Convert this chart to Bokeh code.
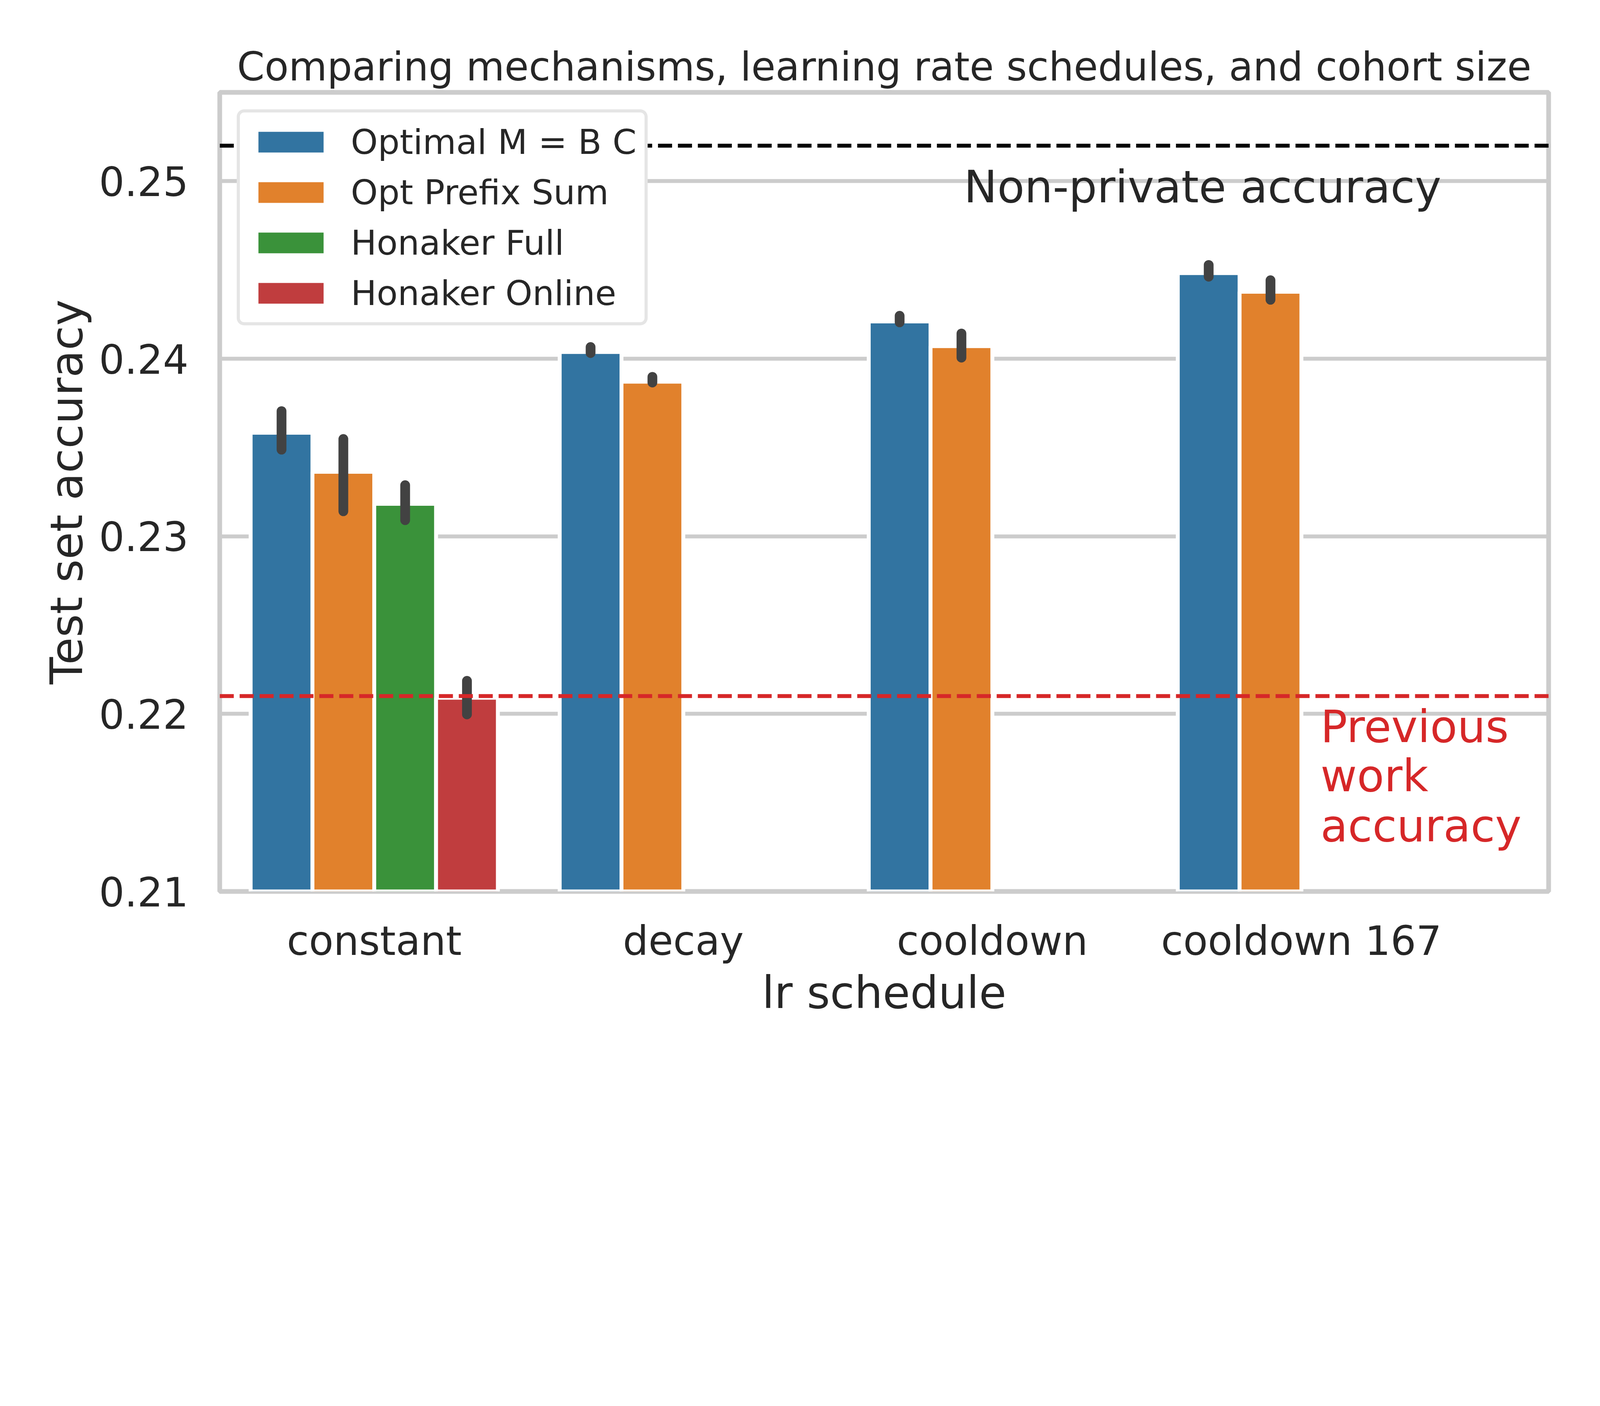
from bokeh.plotting import figure
from bokeh.models import (Range1d, FixedTicker, ColumnDataSource, Span, Label,
                          Legend, LegendItem)
from bokeh.embed import file_html
from bokeh.resources import INLINE

# ---------------- data ----------------
categories = ["constant", "decay", "cooldown", "cooldown 167"]
mechanisms = ["Optimal M = B C", "Opt Prefix Sum", "Honaker Full", "Honaker Online"]

opt_mbc = [0.23583, 0.24038, 0.24210, 0.24482]
opt_mbc_lo = [0.23488, 0.24032, 0.24205, 0.24462]
opt_mbc_hi = [0.23705, 0.24066, 0.24242, 0.24528]

opt_prefix = [0.23363, 0.23871, 0.24071, 0.24377]
opt_prefix_lo = [0.23141, 0.23866, 0.24006, 0.24332]
opt_prefix_hi = [0.23548, 0.23898, 0.24142, 0.24442]

honaker_full = [0.23183, None, None, None]
honaker_full_lo = [0.23091, None, None, None]
honaker_full_hi = [0.23288, None, None, None]

honaker_online = [0.22091, None, None, None]
honaker_online_lo = [0.21997, None, None, None]
honaker_online_hi = [0.22186, None, None, None]

non_private_acc = 0.252
previous_work_acc = 0.221

y_ticks = [0.21, 0.22, 0.23, 0.24, 0.25]
y_tick_labels = ["0.21", "0.22", "0.23", "0.24", "0.25"]

series = [
    (opt_mbc, opt_mbc_lo, opt_mbc_hi),
    (opt_prefix, opt_prefix_lo, opt_prefix_hi),
    (honaker_full, honaker_full_lo, honaker_full_hi),
    (honaker_online, honaker_online_lo, honaker_online_hi),
]
colors = ["#3274a1", "#e1812c", "#3a923a", "#c03d3e"]
offsets = [-0.3, -0.1, 0.1, 0.3]

FONT = "DejaVu Sans"
TEXT = "#262626"
GRID = "#cccccc"

W, H = 4080, 2714
p = figure(width=W, height=H, output_backend="svg", toolbar_location=None,
           x_range=Range1d(-0.5, 3.8), y_range=Range1d(0.21, 0.255),
           min_border_left=562, min_border_right=116,
           min_border_top=236, min_border_bottom=432)
p.background_fill_color = "white"
p.border_fill_color = "white"
p.outline_line_color = GRID
p.outline_line_width = 12

# title
p.title.text = "Comparing mechanisms, learning rate schedules, and cohort size"
p.title.text_font = FONT
p.title.text_font_size = "101px"
p.title.text_font_style = "normal"
p.title.text_color = TEXT
p.title.align = "center"
p.title.standoff = 13

# grids
p.xgrid.grid_line_color = None
p.ygrid.grid_line_color = GRID
p.ygrid.grid_line_width = 10
p.ygrid.ticker = FixedTicker(ticks=y_ticks)

# axes
for ax in (p.xaxis[0], p.yaxis[0]):
    ax.axis_line_color = None
    ax.major_tick_line_color = None
    ax.minor_tick_line_color = None
    ax.major_tick_out = 0
    ax.major_tick_in = 0
    ax.minor_tick_out = 0
    ax.major_label_text_font = FONT
    ax.major_label_text_font_size = "103px"
    ax.major_label_text_color = TEXT
    ax.axis_label_text_font = FONT
    ax.axis_label_text_font_size = "114px"
    ax.axis_label_text_font_style = "normal"
    ax.axis_label_text_color = TEXT

p.xaxis.ticker = FixedTicker(ticks=list(range(len(categories))))
p.xaxis.major_label_overrides = {i: c for i, c in enumerate(categories)}
p.xaxis.axis_label = "lr schedule"
p.xaxis.major_label_standoff = 66
p.xaxis.axis_label_standoff = 3

p.yaxis.ticker = FixedTicker(ticks=y_ticks)
p.yaxis.major_label_overrides = {t: l for t, l in zip(y_ticks, y_tick_labels)}
p.yaxis.axis_label = "Test set accuracy"
p.yaxis.major_label_standoff = 80
p.yaxis.axis_label_standoff = 13

# bars + error bars
items = []
for k, (vals, lo, hi) in enumerate(series):
    xs, ys, los, his = [], [], [], []
    for i, v in enumerate(vals):
        if v is None:
            continue
        xs.append(i + offsets[k])
        ys.append(v)
        los.append(lo[i])
        his.append(hi[i])
    src = ColumnDataSource(dict(x=xs, top=ys, lo=los, hi=his))
    r = p.vbar(x="x", top="top", bottom=0, width=0.2, source=src,
               fill_color=colors[k], line_color="white", line_width=10)
    p.segment(x0="x", y0="lo", x1="x", y1="hi", source=src,
              line_color="#424242", line_width=25, line_cap="round")
    items.append(LegendItem(label=mechanisms[k], renderers=[r]))

# reference lines
p.add_layout(Span(location=non_private_acc, dimension="width", line_color="black",
                  line_dash="36 15", line_width=10))
p.add_layout(Span(location=previous_work_acc, dimension="width", line_color="#d62728",
                  line_dash="36 15", line_width=10))

p.add_layout(Label(x=1.908, y=0.24968, text="Non-private accuracy",
                   text_font=FONT, text_font_size="114px", text_color=TEXT,
                   text_baseline="alphabetic", text_align="left"))
for txt, yy in zip(["Previous", "work", "accuracy"], [0.21928, 0.21650, 0.21370]):
    p.add_layout(Label(x=3.062, y=yy, text=txt,
                       text_font=FONT, text_font_size="114px", text_color="#d62728",
                       text_baseline="alphabetic", text_align="left"))

legend = Legend(items=items, location="top_left")
legend.label_text_font = FONT
legend.label_text_font_size = "88px"
legend.label_text_color = TEXT
legend.glyph_width = 221
legend.glyph_height = 79
legend.label_height = 110
legend.label_standoff = 43
legend.spacing = 19
legend.padding = 20
legend.margin = 44
legend.border_line_color = GRID
legend.border_line_width = 8
legend.background_fill_color = "white"
legend.background_fill_alpha = 1.0
if "border_radius" in legend.properties():
    legend.border_radius = 19
p.add_layout(legend)

open("out.html", "w").write(file_html(p, INLINE))
